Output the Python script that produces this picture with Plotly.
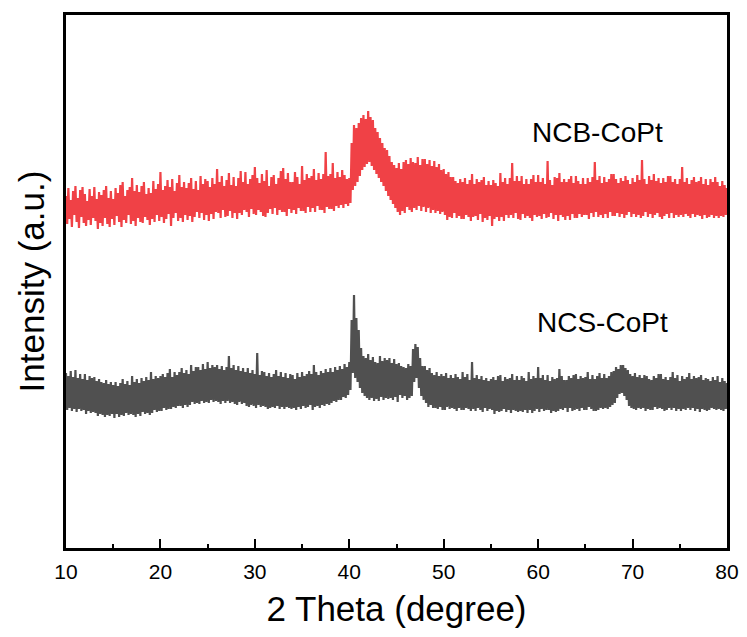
import numpy as np
import plotly.graph_objects as go

# 2-theta grid, 0.125 degree step from 10 to 80
two_theta = np.linspace(10, 80, 561)

# NCB-CoPt intensity (a.u.), one row per degree
ncb_copt = [
    352, 324, 360, 329, 348, 321, 357, 333,
    362, 326, 350, 320, 358, 331, 361, 325,
    354, 322, 347, 328, 359, 323, 352, 330,
    361, 327, 349, 319, 356, 325, 353, 322,
    358, 330, 362, 324, 350, 321, 357, 329,
    349, 323, 360, 332, 355, 326, 363, 321,
    366, 328, 352, 325, 358, 333, 361, 324,
    370, 327, 357, 322, 363, 330, 356, 326,
    362, 325, 366, 331, 354, 328, 360, 323,
    355, 329, 367, 326, 359, 333, 364, 327,
    376, 331, 358, 325, 362, 329, 368, 334,
    361, 322, 369, 330, 357, 335, 365, 327,
    373, 330, 361, 326, 366, 333, 360, 328,
    365, 332, 370, 326, 359, 331, 367, 336,
    358, 330, 372, 335, 364, 328, 369, 333,
    367, 327, 361, 334, 370, 329, 364, 336,
    379, 335, 366, 330, 372, 338, 362, 331,
    368, 332, 375, 337, 363, 330, 371, 335,
    362, 329, 370, 335, 377, 333, 366, 338,
    376, 336, 364, 331, 369, 339, 373, 334,
    381, 333, 370, 338, 365, 336, 374, 332,
    367, 331, 378, 335, 362, 339, 371, 334,
    373, 340, 364, 333, 370, 338, 377, 336,
    380, 336, 369, 332, 375, 339, 366, 335,
    366, 338, 376, 334, 371, 340, 364, 337,
    382, 337, 368, 335, 374, 341, 370, 336,
    372, 340, 379, 336, 368, 342, 375, 338,
    369, 338, 374, 335, 396, 341, 372, 339,
    374, 339, 385, 337, 370, 342, 376, 340,
    371, 343, 378, 340, 373, 344, 369, 342,
    370, 345, 405, 358, 423, 362, 420, 366,
    425, 372, 430, 378, 433, 381, 429, 384,
    437, 386, 431, 382, 428, 378, 420, 374,
    416, 370, 410, 366, 405, 362, 400, 357,
    398, 352, 392, 348, 386, 344, 383, 340,
    380, 336, 385, 333, 379, 337, 386, 335,
    388, 341, 384, 338, 390, 336, 386, 340,
    385, 338, 391, 342, 383, 337, 389, 341,
    389, 336, 384, 340, 388, 335, 382, 338,
    387, 335, 381, 337, 384, 334, 378, 336,
    379, 333, 374, 328, 376, 331, 371, 330,
    371, 335, 367, 330, 365, 332, 369, 329,
    366, 329, 370, 333, 364, 331, 368, 327,
    374, 331, 364, 332, 369, 328, 366, 334,
    368, 326, 371, 330, 363, 328, 367, 332,
    363, 322, 368, 329, 365, 331, 362, 327,
    375, 331, 366, 327, 370, 333, 364, 330,
    370, 333, 385, 330, 367, 335, 372, 329,
    367, 328, 372, 334, 364, 330, 369, 332,
    364, 330, 369, 327, 373, 333, 366, 331,
    373, 332, 366, 329, 370, 334, 364, 330,
    387, 331, 368, 335, 363, 329, 371, 333,
    370, 327, 375, 333, 366, 331, 369, 328,
    366, 332, 369, 328, 372, 334, 365, 330,
    372, 330, 367, 334, 364, 331, 370, 333,
    364, 333, 370, 329, 366, 335, 371, 331,
    386, 336, 368, 331, 372, 333, 365, 330,
    371, 334, 366, 330, 369, 336, 374, 332,
    374, 332, 369, 335, 365, 331, 370, 334,
    367, 330, 372, 333, 368, 336, 364, 331,
    370, 334, 366, 331, 373, 333, 368, 330,
    388, 332, 369, 336, 364, 331, 372, 334,
    368, 330, 374, 333, 367, 335, 370, 331,
    365, 329, 370, 332, 366, 334, 372, 330,
    372, 335, 366, 330, 369, 333, 364, 331,
    369, 333, 381, 331, 366, 334, 370, 332,
    364, 330, 368, 334, 371, 331, 366, 333,
    367, 332, 371, 329, 364, 333, 369, 330,
    363, 331, 369, 333, 366, 330, 371, 332,
    366, 330, 362, 332, 367, 331, 363, 333,
    360,
]

# NCS-CoPt intensity (a.u.), one row per degree
ncs_copt = [
    175, 138, 172, 140, 177, 137, 171, 139,
    178, 136, 170, 139, 174, 137, 169, 138,
    174, 134, 168, 137, 172, 135, 170, 136,
    171, 135, 167, 132, 169, 134, 166, 133,
    165, 131, 168, 133, 164, 132, 166, 134,
    163, 130, 166, 134, 162, 131, 165, 133,
    169, 132, 164, 135, 167, 133, 163, 134,
    172, 133, 166, 131, 169, 134, 165, 132,
    170, 136, 167, 134, 171, 135, 168, 133,
    176, 135, 169, 138, 172, 136, 170, 137,
    172, 137, 174, 140, 171, 138, 175, 139,
    179, 139, 171, 141, 176, 140, 173, 142,
    176, 142, 180, 140, 175, 143, 178, 141,
    174, 143, 183, 146, 177, 144, 181, 145,
    181, 144, 178, 147, 184, 145, 179, 146,
    186, 145, 180, 148, 183, 146, 181, 147,
    183, 146, 179, 144, 182, 147, 178, 145,
    181, 147, 192, 145, 180, 146, 183, 144,
    178, 143, 182, 146, 177, 144, 180, 145,
    176, 142, 180, 141, 175, 143, 178, 142,
    174, 140, 195, 143, 173, 141, 177, 142,
    176, 141, 172, 139, 175, 140, 171, 141,
    174, 140, 178, 142, 172, 139, 176, 141,
    171, 139, 175, 141, 170, 140, 174, 139,
    173, 140, 169, 138, 175, 141, 171, 139,
    176, 142, 172, 140, 174, 141, 177, 143,
    174, 138, 183, 141, 176, 142, 173, 140,
    177, 143, 175, 142, 179, 144, 176, 143,
    180, 145, 176, 147, 181, 146, 178, 148,
    182, 148, 179, 151, 184, 150, 181, 153,
    186, 158, 228, 175, 253, 170, 230, 166,
    218, 160, 200, 155, 192, 152, 190, 150,
    194, 148, 188, 150, 191, 147, 186, 149,
    185, 147, 192, 151, 187, 148, 190, 150,
    188, 149, 190, 150, 185, 148, 189, 151,
    184, 146, 185, 153, 182, 150, 181, 152,
    180, 148, 184, 150, 182, 152, 199, 166,
    204, 170, 201, 160, 190, 152, 182, 148,
    182, 145, 178, 141, 180, 143, 175, 140,
    173, 140, 176, 139, 172, 141, 174, 138,
    172, 138, 175, 141, 170, 139, 173, 140,
    170, 139, 174, 137, 171, 140, 169, 138,
    176, 138, 171, 140, 174, 139, 168, 137,
    186, 139, 170, 137, 173, 140, 169, 138,
    172, 136, 168, 140, 170, 137, 167, 139,
    169, 138, 171, 134, 168, 137, 172, 136,
    173, 137, 167, 139, 171, 136, 169, 138,
    170, 135, 174, 138, 168, 137, 172, 136,
    168, 137, 172, 136, 170, 138, 167, 135,
    176, 138, 169, 135, 172, 137, 170, 139,
    181, 136, 170, 139, 173, 137, 168, 138,
    173, 138, 167, 135, 171, 137, 169, 136,
    170, 137, 179, 139, 172, 138, 168, 140,
    168, 136, 172, 140, 170, 137, 173, 138,
    174, 139, 169, 137, 172, 140, 170, 138,
    171, 138, 176, 141, 169, 139, 173, 137,
    169, 137, 172, 138, 175, 140, 170, 139,
    174, 140, 170, 139, 172, 141, 176, 143,
    177, 145, 181, 150, 179, 154, 183, 155,
    183, 152, 180, 148, 178, 142, 174, 140,
    172, 139, 175, 138, 171, 140, 173, 139,
    170, 140, 173, 137, 172, 139, 169, 138,
    168, 138, 172, 141, 170, 139, 174, 140,
    174, 139, 169, 137, 171, 138, 168, 140,
    171, 138, 176, 140, 170, 137, 173, 139,
    167, 137, 172, 139, 169, 138, 171, 140,
    175, 138, 169, 140, 172, 137, 170, 139,
    171, 136, 173, 139, 168, 138, 170, 137,
    169, 138, 167, 140, 171, 139, 168, 138,
    172, 139, 166, 138, 170, 137, 167, 139,
    165,
]

labels = ["NCB-CoPt", "NCS-CoPt"]
label_pos = [(66.3, 416), (66.8, 226)]

arial = "Liberation Sans, Arial, sans-serif"

fig = go.Figure()
fig.add_trace(go.Scatter(x=two_theta, y=ncs_copt, mode="lines",
                         line=dict(color="#505050", width=2.2), name=labels[1]))
fig.add_trace(go.Scatter(x=two_theta, y=ncb_copt, mode="lines",
                         line=dict(color="#F04146", width=2.2), name=labels[0]))

for lab, (lx, ly) in zip(labels, label_pos):
    fig.add_annotation(x=lx, y=ly, text=lab, showarrow=False,
                       font=dict(family=arial, size=28, color="black"))

# page body adds an 8px margin, so the figure is trimmed by that much
fig.update_layout(
    width=739, height=620,
    margin=dict(l=58, r=20, t=7, b=80),
    plot_bgcolor="white", paper_bgcolor="white",
    showlegend=False,
    xaxis=dict(
        range=[10, 80], tickvals=[10, 20, 30, 40, 50, 60, 70, 80],
        ticks="inside", ticklen=9, tickwidth=2, tickcolor="black",
        minor=dict(tickvals=[15, 25, 35, 45, 55, 65, 75], ticks="inside",
                   ticklen=4, tickwidth=2, tickcolor="black"),
        showline=True, linecolor="black", linewidth=3, mirror=True,
        showgrid=False, zeroline=False, automargin=False,
        tickfont=dict(family=arial, size=21, color="black"),
        ticklabelstandoff=3,
        title=dict(text="2 Theta (degree)", standoff=30,
                   font=dict(family=arial, size=35, color="black")),
    ),
    yaxis=dict(
        range=[0, 533], showticklabels=False, ticks="",
        showline=True, linecolor="black", linewidth=3, mirror=True,
        showgrid=False, zeroline=False, automargin=False,
        title=dict(text="Intensity (a.u.)", standoff=8,
                   font=dict(family=arial, size=35, color="black")),
    ),
)

fig.write_html("out.html")
